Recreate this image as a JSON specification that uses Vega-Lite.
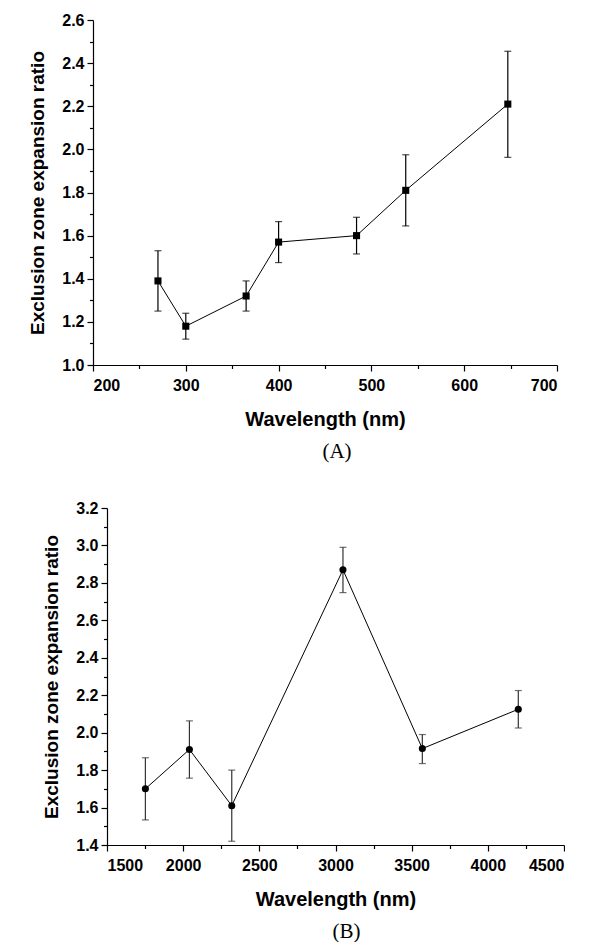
{
  "$schema": "https://vega.github.io/schema/vega-lite/v6.json",
  "padding": {"left": 28, "top": 12, "right": 0, "bottom": 0},
  "background": "white",
  "spacing": 38,
  "config": {
    "view": {"stroke": null},
    "axis": {
      "grid": false,
      "domainColor": "black",
      "domainWidth": 1.2,
      "tickColor": "black",
      "tickWidth": 1.2,
      "tickSize": 6,
      "labelFont": "Liberation Sans",
      "labelFontWeight": "bold",
      "labelFontSize": 16,
      "labelColor": "black",
      "titleFont": "Liberation Sans",
      "titleFontWeight": "bold",
      "titleFontSize": 19,
      "titleColor": "black"
    }
  },
  "vconcat": [
    {
      "hconcat": [
        {
          "width": 464,
          "height": 345,
          "data": {"values": [
            {"x": 270, "y": 1.39, "lo": 1.25, "hi": 1.53},
            {"x": 300, "y": 1.18, "lo": 1.12, "hi": 1.24},
            {"x": 365, "y": 1.32, "lo": 1.25, "hi": 1.39},
            {"x": 400, "y": 1.57, "lo": 1.475, "hi": 1.665},
            {"x": 484, "y": 1.60, "lo": 1.515, "hi": 1.685},
            {"x": 537, "y": 1.81, "lo": 1.645, "hi": 1.975},
            {"x": 647, "y": 2.21, "lo": 1.963, "hi": 2.455}
          ]},
          "title": {"text": "(A)", "orient": "bottom", "font": "Liberation Serif", "fontSize": 21, "fontWeight": "normal", "color": "black", "offset": 12, "anchor": "middle", "dx": 12},
          "resolve": {"axis": {"x": "independent", "y": "independent"}},
          "layer": [
            {
              "mark": {"type": "line", "color": "black", "strokeWidth": 1},
              "encoding": {
                "x": {"field": "x", "type": "quantitative", "scale": {"domain": [200, 700], "nice": false, "zero": false},
                      "axis": {"orient": "bottom", "values": [200, 300, 400, 500, 600, 700], "format": "d", "title": "Wavelength (nm)", "titleFontSize": 20, "titlePadding": 16, "labelPadding": 6}},
                "y": {"field": "y", "type": "quantitative", "scale": {"domain": [1.0, 2.6], "nice": false, "zero": false},
                      "axis": {"orient": "left", "values": [1.0, 1.2, 1.4, 1.6, 1.8, 2.0, 2.2, 2.4, 2.6], "format": ".1f", "title": "Exclusion zone expansion ratio", "titlePadding": 14, "labelPadding": 3}}
              }
            },
            {
              "mark": {"type": "rule", "color": "black", "strokeWidth": 1.2},
              "encoding": {
                "x": {"field": "x", "type": "quantitative",
                      "axis": {"orient": "bottom", "values": [250, 350, 450, 550, 650], "labels": false, "domain": false, "tickSize": 3.5, "title": null}},
                "y": {"field": "lo", "type": "quantitative",
                      "axis": {"orient": "left", "values": [1.1, 1.3, 1.5, 1.7, 1.9, 2.1, 2.3, 2.5], "labels": false, "domain": false, "tickSize": 3.5, "title": null}},
                "y2": {"field": "hi"}
              }
            },
            {
              "mark": {"type": "tick", "color": "black", "orient": "horizontal", "size": 7, "thickness": 1.2},
              "encoding": {
                "x": {"field": "x", "type": "quantitative", "axis": null},
                "y": {"field": "lo", "type": "quantitative", "axis": null}
              }
            },
            {
              "mark": {"type": "tick", "color": "black", "orient": "horizontal", "size": 7, "thickness": 1.2},
              "encoding": {
                "x": {"field": "x", "type": "quantitative", "axis": null},
                "y": {"field": "hi", "type": "quantitative", "axis": null}
              }
            },
            {
              "mark": {"type": "square", "color": "black", "filled": true, "opacity": 1, "size": 50},
              "encoding": {
                "x": {"field": "x", "type": "quantitative", "axis": null},
                "y": {"field": "y", "type": "quantitative", "axis": null}
              }
            }
          ]
        }
      ]
    },
    {
      "spacing": -55,
      "hconcat": [
        {
          "width": 1,
          "height": 1,
          "data": {"values": [{"a": 0}]},
          "mark": {"type": "point", "opacity": 0},
          "encoding": {}
        },
        {
          "width": 457,
          "height": 337,
          "data": {"values": [
            {"x": 1752, "y": 1.70, "lo": 1.534, "hi": 1.866},
            {"x": 2041, "y": 1.91, "lo": 1.757, "hi": 2.063},
            {"x": 2319, "y": 1.61, "lo": 1.42, "hi": 1.80},
            {"x": 3049, "y": 2.87, "lo": 2.748, "hi": 2.99},
            {"x": 3570, "y": 1.915, "lo": 1.835, "hi": 1.99},
            {"x": 4200, "y": 2.125, "lo": 2.025, "hi": 2.225}
          ]},
          "title": {"text": "(B)", "orient": "bottom", "font": "Liberation Serif", "fontSize": 21, "fontWeight": "normal", "color": "black", "offset": 12, "anchor": "middle", "dx": 11},
          "resolve": {"axis": {"x": "independent", "y": "independent"}},
          "layer": [
            {
              "mark": {"type": "line", "color": "black", "strokeWidth": 1},
              "encoding": {
                "x": {"field": "x", "type": "quantitative", "scale": {"domain": [1500, 4500], "nice": false, "zero": false},
                      "axis": {"orient": "bottom", "values": [1500, 2000, 2500, 3000, 3500, 4000, 4500], "format": "d", "title": "Wavelength (nm)", "titleFontSize": 20, "titlePadding": 16, "labelPadding": 6}},
                "y": {"field": "y", "type": "quantitative", "scale": {"domain": [1.4, 3.2], "nice": false, "zero": false},
                      "axis": {"orient": "left", "values": [1.4, 1.6, 1.8, 2.0, 2.2, 2.4, 2.6, 2.8, 3.0, 3.2], "format": ".1f", "title": "Exclusion zone expansion ratio", "titlePadding": 14, "labelPadding": 3}}
              }
            },
            {
              "mark": {"type": "rule", "color": "#333333", "strokeWidth": 1.2},
              "encoding": {
                "x": {"field": "x", "type": "quantitative",
                      "axis": {"orient": "bottom", "values": [1750, 2250, 2750, 3250, 3750, 4250], "labels": false, "domain": false, "tickSize": 3.5, "title": null}},
                "y": {"field": "lo", "type": "quantitative",
                      "axis": {"orient": "left", "values": [1.5, 1.7, 1.9, 2.1, 2.3, 2.5, 2.7, 2.9, 3.1], "labels": false, "domain": false, "tickSize": 3.5, "title": null}},
                "y2": {"field": "hi"}
              }
            },
            {
              "mark": {"type": "tick", "color": "#333333", "orient": "horizontal", "size": 7, "thickness": 1.2},
              "encoding": {
                "x": {"field": "x", "type": "quantitative", "axis": null},
                "y": {"field": "lo", "type": "quantitative", "axis": null}
              }
            },
            {
              "mark": {"type": "tick", "color": "#333333", "orient": "horizontal", "size": 7, "thickness": 1.2},
              "encoding": {
                "x": {"field": "x", "type": "quantitative", "axis": null},
                "y": {"field": "hi", "type": "quantitative", "axis": null}
              }
            },
            {
              "mark": {"type": "circle", "color": "black", "opacity": 1, "size": 50},
              "encoding": {
                "x": {"field": "x", "type": "quantitative", "axis": null},
                "y": {"field": "y", "type": "quantitative", "axis": null}
              }
            }
          ]
        }
      ]
    }
  ]
}
